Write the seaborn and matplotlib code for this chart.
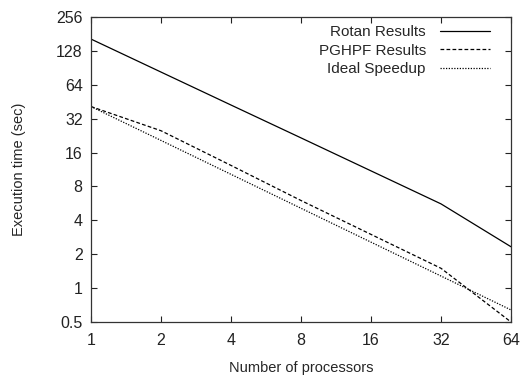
import matplotlib
matplotlib.use("Agg")

import matplotlib.pyplot as plt
import pandas as pd
import seaborn as sns
from matplotlib.ticker import FixedLocator, FixedFormatter, NullLocator

processors = [1, 2, 4, 8, 16, 32, 64]
rotan = [163, 83, 42.3, 21.6, 11.0, 5.6, 2.33]
pghpf = [41, 25, 12.3, 6.0, 3.0, 1.5, 0.5]
ideal = [41, 20.5, 10.25, 5.12, 2.56, 1.28, 0.64]

x_ticks = [1, 2, 4, 8, 16, 32, 64]
y_ticks = [0.5, 1, 2, 4, 8, 16, 32, 64, 128, 256]
y_tick_labels = ["0.5", "1", "2", "4", "8", "16", "32", "64", "128", "256"]

sns.set_theme(style="ticks")
plt.rcParams["font.family"] = ["Liberation Sans", "DejaVu Sans"]

df = pd.DataFrame({
    "procs": processors * 3,
    "time": rotan + pghpf + ideal,
    "series": ["Rotan Results"] * 7 + ["PGHPF Results"] * 7 + ["Ideal Speedup"] * 7,
})

fig = plt.figure(figsize=(5.24, 3.77), dpi=100)
ax = fig.add_axes([91 / 524, 1 - 322 / 377, 420 / 524, 305 / 377])

styles = {
    "Rotan Results": "-",
    "PGHPF Results": (0, (3, 1.8)),
    "Ideal Speedup": (0, (1, 1.2)),
}
for name, ls in styles.items():
    sub = df[df["series"] == name]
    sns.lineplot(data=sub, x="procs", y="time", ax=ax, color="black",
                 linewidth=0.9, linestyle=ls, label=name)

ax.set_xscale("log", base=2)
ax.set_yscale("log", base=2)
ax.set_xlim(1, 64)
ax.set_ylim(0.5, 256)
ax.xaxis.set_major_locator(FixedLocator(x_ticks))
ax.xaxis.set_major_formatter(FixedFormatter([str(v) for v in x_ticks]))
ax.yaxis.set_major_locator(FixedLocator(y_ticks))
ax.yaxis.set_major_formatter(FixedFormatter(y_tick_labels))
ax.xaxis.set_minor_locator(NullLocator())
ax.yaxis.set_minor_locator(NullLocator())

ax.tick_params(which="major", direction="in", length=4, width=0.8,
               top=True, right=True, labelsize=11.5, pad=6, colors="#222222")
ax.tick_params(axis="x", pad=8)
for sp in ax.spines.values():
    sp.set_linewidth(0.9)
    sp.set_color("#333333")

ax.set_xlabel("Number of processors", fontsize=10.5)
ax.set_ylabel("Execution time (sec)", fontsize=10.5)
ax.xaxis.set_label_coords(0.5, -(361 - 322) / 305)
ax.yaxis.set_label_coords(-(91 - 26) / 420, 0.5)

leg = ax.legend(loc="upper right", bbox_to_anchor=(490 / 524, 1 - 25 / 377),
                bbox_transform=fig.transFigure, frameon=False, markerfirst=False,
                fontsize=11, handlelength=3.3, handletextpad=0.9,
                labelspacing=0.3, borderpad=0, borderaxespad=0)

fig.savefig("out.png", dpi=100)
